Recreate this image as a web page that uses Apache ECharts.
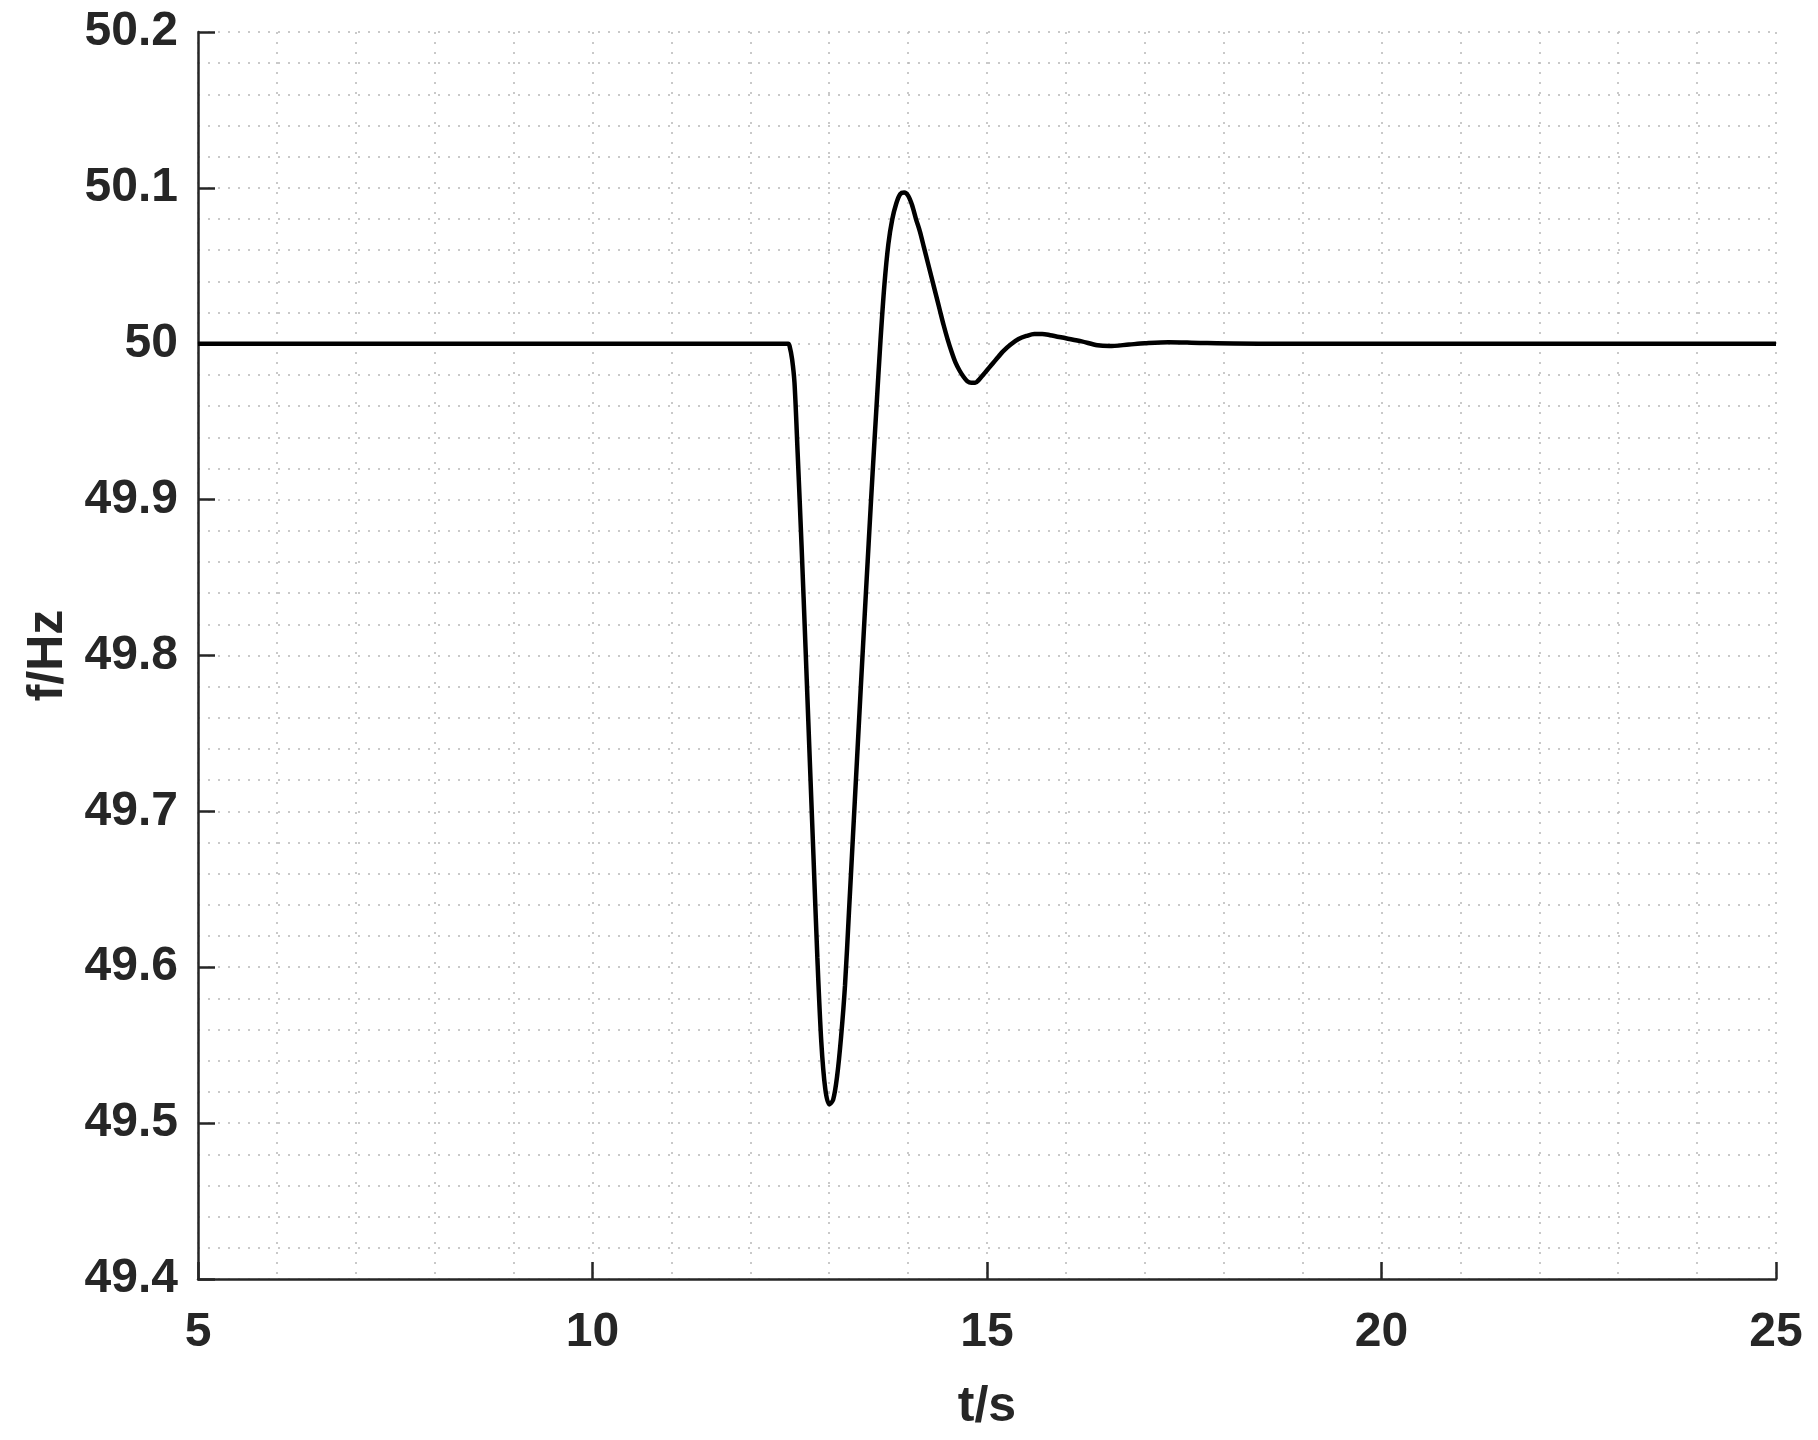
<!DOCTYPE html>
<html>
<head>
<meta charset="utf-8">
<script src="https://cdn.jsdelivr.net/npm/echarts@6/dist/echarts.min.js"></script>
<style>
  html, body { margin: 0; padding: 0; background: #fff; }
  #chart { width: 1818px; height: 1440px; }
</style>
</head>
<body>
<div id="chart"></div>
<script>
  // time (s) and frequency (Hz)
  const timeS = [
    5.00, 12.48, 12.50, 12.53, 12.56, 12.60, 12.65, 12.70, 12.75, 12.80,
    12.85, 12.90, 12.95, 13.00, 13.05, 13.10, 13.15, 13.20, 13.25, 13.30,
    13.35, 13.40, 13.45, 13.50, 13.55, 13.60, 13.65, 13.70, 13.75, 13.80,
    13.85, 13.90, 13.95, 14.00, 14.05, 14.10, 14.15, 14.20, 14.25, 14.30,
    14.35, 14.40, 14.45, 14.50, 14.55, 14.60, 14.65, 14.70, 14.75, 14.80,
    14.85, 14.90, 14.95, 15.00, 15.05, 15.10, 15.15, 15.20, 15.30, 15.40,
    15.50, 15.60, 15.70, 15.80, 16.00, 16.20, 16.40, 16.55, 16.80, 17.00,
    17.30, 17.70, 18.50, 25.00
  ];
  const freqHz = [
    50.000, 50.000, 49.998, 49.990, 49.975, 49.930, 49.870, 49.805, 49.738, 49.672,
    49.606, 49.552, 49.522, 49.512, 49.515, 49.530, 49.555, 49.588, 49.635, 49.683,
    49.731, 49.779, 49.826, 49.872, 49.917, 49.960, 50.002, 50.038, 50.064, 50.080,
    50.090, 50.096, 50.097, 50.095, 50.089, 50.080, 50.072, 50.062, 50.052, 50.042,
    50.032, 50.022, 50.012, 50.003, 49.995, 49.988, 49.983, 49.979, 49.976, 49.975,
    49.975, 49.977, 49.980, 49.983, 49.986, 49.989, 49.992, 49.995, 49.9995, 50.003,
    50.005, 50.0063, 50.0063, 50.0055, 50.0035, 50.0015, 49.999, 49.9985, 49.9995, 50.0003,
    50.001, 50.0005, 50.000, 50.000
  ];
  const xTicks = [5, 25, 5];          // min, max, interval
  const yTicks = [49.4, 50.2, 0.1];   // min, max, interval

  const dark = '#262626';
  const font = '"Liberation Sans", Arial, Helvetica, sans-serif';
  const gridDots = { color: '#b8b8b8', width: 1.5, type: [2, 8] };

  const chart = echarts.init(document.getElementById('chart'));
  chart.setOption({
    animation: false,
    backgroundColor: '#fff',
    grid: { left: 198, right: 42, top: 32, bottom: 161, containLabel: false },
    xAxis: {
      type: 'value',
      min: xTicks[0], max: xTicks[1], interval: xTicks[2],
      name: 't/s',
      nameLocation: 'middle',
      nameGap: 103,
      nameTextStyle: { fontSize: 50, fontWeight: 'bold', color: dark, fontFamily: font },
      axisLine: { show: true, lineStyle: { color: dark, width: 2.5 } },
      axisTick: { show: true, inside: true, length: 17, lineStyle: { color: dark, width: 2.5 } },
      axisLabel: { fontSize: 48, fontWeight: 'bold', color: dark, fontFamily: font, margin: 30 },
      splitLine: { show: true, lineStyle: gridDots },
      minorTick: { show: false, splitNumber: 5 },
      minorSplitLine: { show: true, lineStyle: gridDots }
    },
    yAxis: {
      type: 'value',
      min: yTicks[0], max: yTicks[1], interval: yTicks[2],
      name: 'f/Hz',
      nameLocation: 'middle',
      nameGap: 124,
      nameTextStyle: { fontSize: 50, fontWeight: 'bold', color: dark, fontFamily: font },
      axisLine: { show: true, lineStyle: { color: dark, width: 2.5 } },
      axisTick: { show: true, inside: true, length: 17, lineStyle: { color: dark, width: 2.5 } },
      axisLabel: {
        fontSize: 48, fontWeight: 'bold', color: dark, fontFamily: font, margin: 20,
        formatter: v => String(Math.round(v * 10) / 10)
      },
      splitLine: { show: true, lineStyle: gridDots },
      minorTick: { show: false, splitNumber: 5 },
      minorSplitLine: { show: true, lineStyle: gridDots }
    },
    series: [{
      type: 'line',
      data: timeS.map((t, i) => [t, freqHz[i]]),
      showSymbol: false,
      smooth: 0.3,
      lineStyle: { color: '#000', width: 4.5 },
      z: 5
    }]
  });
</script>
</body>
</html>
